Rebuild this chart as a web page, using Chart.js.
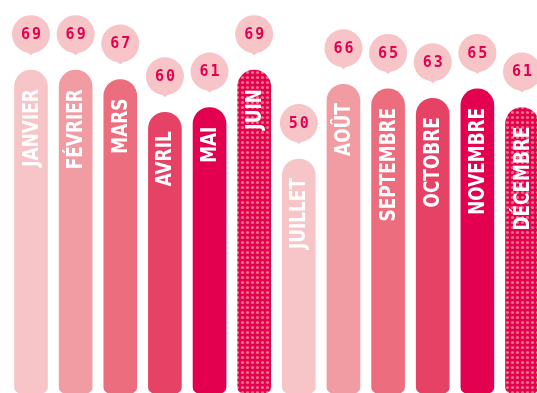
<!DOCTYPE html>
<html>
<head>
<meta charset="utf-8">
<script src="https://cdn.jsdelivr.net/npm/chart.js@4.4.1/dist/chart.umd.min.js"></script>
<style>
  html, body { margin: 0; padding: 0; background: #ffffff; }
  #wrap { width: 537px; height: 393px; position: relative; }
</style>
</head>
<body>
<div id="wrap"><canvas id="chart"></canvas></div>
<script>
// données
const mois = ['JANVIER', 'FÉVRIER', 'MARS', 'AVRIL', 'MAI', 'JUIN',
              'JUILLET', 'AOÛT', 'SEPTEMBRE', 'OCTOBRE', 'NOVEMBRE', 'DÉCEMBRE'];
const valeurs = [69, 69, 67, 60, 61, 69, 50, 66, 65, 63, 65, 61];

// palette (cycle de 6 teintes, la 6e est pointillée)
const rose = ['#f7c5c8', '#f19ca3', '#ec6e7e', '#e54266', '#e3004f', 'dots'];
const bulle = '#f7c5c8';
const chiffre = '#e3004f';

// motif à pois pour juin et décembre
function motifPois() {
    const c = document.createElement('canvas');
    c.width = 5; c.height = 5;
    const g = c.getContext('2d');
    g.fillStyle = '#e3004f';
    g.fillRect(0, 0, 5, 5);
    g.fillStyle = '#ef7187';
    g.beginPath();
    g.arc(2.5, 2.5, 1.6, 0, Math.PI * 2);
    g.fill();
    return g.createPattern(c, 'repeat');
}
const pois = motifPois();
const couleurs = mois.map((m, i) => rose[i % 6] === 'dots' ? pois : rose[i % 6]);

// bulles + noms des mois
const bullesPlugin = {
    id: 'bulles',
    afterDatasetsDraw(chart) {
        const ctx = chart.ctx;
        const meta = chart.getDatasetMeta(0);
        meta.data.forEach((bar, i) => {
            const x = bar.x, y = bar.y;

            // nom du mois, vertical
            ctx.save();
            ctx.translate(x, y + 19);
            ctx.rotate(-Math.PI / 2);
            ctx.scale(0.94, 1.06);
            ctx.fillStyle = '#ffffff';
            ctx.font = 'bold 20px "DejaVu Sans Condensed", "DejaVu Sans", sans-serif';
            ctx.textAlign = 'right';
            ctx.textBaseline = 'middle';
            ctx.fillText(mois[i], 0, 1);
            ctx.restore();

            // bulle
            const cy = y - 36;
            ctx.save();
            ctx.fillStyle = bulle;
            ctx.beginPath();
            ctx.arc(x, cy, 19, 0, Math.PI * 2);
            ctx.fill();
            ctx.beginPath();
            ctx.moveTo(x - 6, cy + 16);
            ctx.lineTo(x + 6, cy + 16);
            ctx.lineTo(x, y - 15);
            ctx.closePath();
            ctx.fill();

            ctx.fillStyle = chiffre;
            ctx.font = 'bold 15px "DejaVu Sans Mono", monospace';
            ctx.letterSpacing = '2px';
            ctx.textAlign = 'center';
            ctx.textBaseline = 'middle';
            ctx.fillText(String(valeurs[i]), x + 1, cy + 1);
            ctx.restore();
        });
    }
};

new Chart(document.getElementById('chart'), {
    type: 'bar',
    data: {
        labels: mois,
        datasets: [{
            data: valeurs,
            backgroundColor: couleurs,
            borderWidth: 0,
            borderSkipped: false,
            borderRadius: { topLeft: 17, topRight: 17, bottomLeft: 6, bottomRight: 6 },
            barThickness: 33,
            clip: false
        }]
    },
    options: {
        responsive: true,
        maintainAspectRatio: false,
        animation: false,
        layout: { padding: { left: 31, right: 15, top: 0, bottom: 0 } },
        scales: {
            x: { display: false, offset: false },
            y: { display: false, min: 0, max: 84 }
        },
        plugins: {
            legend: { display: false },
            tooltip: { enabled: false }
        }
    },
    plugins: [bullesPlugin]
});
</script>
</body>
</html>
